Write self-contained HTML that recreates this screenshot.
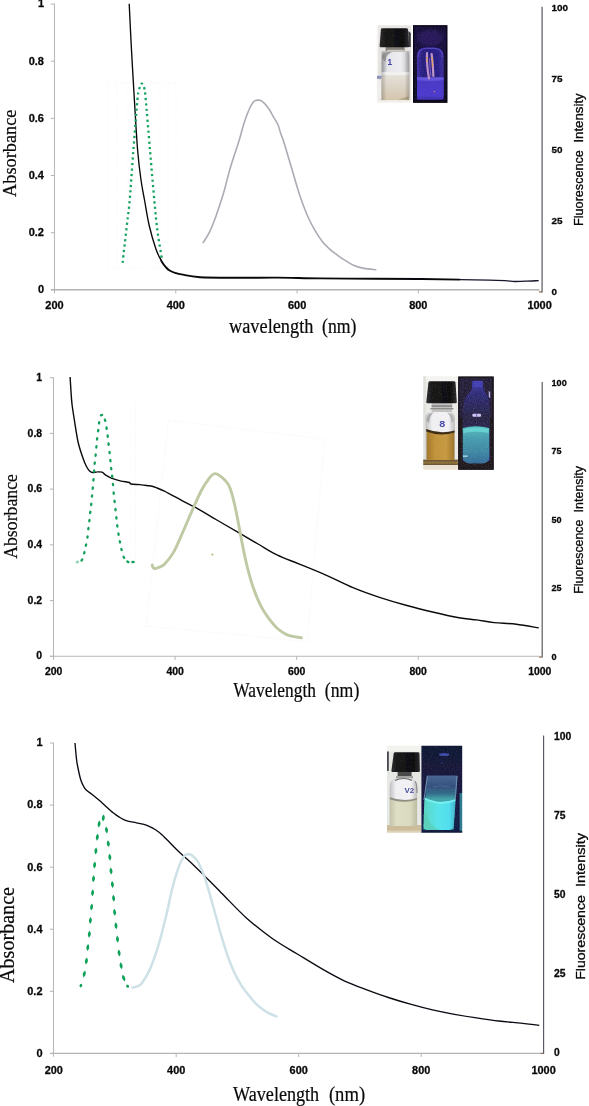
<!DOCTYPE html>
<html lang="en"><head><meta charset="utf-8"><title>Absorbance and fluorescence spectra</title>
<style>
html,body{margin:0;padding:0;background:#fff;}
body{width:589px;height:1106px;overflow:hidden;}
svg{display:block;}
.tk{font-family:"Liberation Sans",Arial,sans-serif;font-weight:700;fill:#080808;stroke:#080808;stroke-width:0.28;}
.ser{font-family:"Liberation Serif","Times New Roman",serif;fill:#0a0a0a;stroke:#0a0a0a;stroke-width:0.22;}
.san{font-family:"Liberation Sans",Arial,sans-serif;fill:#080808;stroke:#080808;stroke-width:0.3;}
</style></head><body>
<svg width="589" height="1106" viewBox="0 0 589 1106">
<defs>
<filter id="b1" x="-10%" y="-10%" width="120%" height="120%"><feGaussianBlur stdDeviation="0.45"/></filter>
<filter id="b2" x="-10%" y="-10%" width="120%" height="120%"><feGaussianBlur stdDeviation="0.9"/></filter>
<filter id="b3" x="-20%" y="-20%" width="140%" height="140%"><feGaussianBlur stdDeviation="1.8"/></filter>
<filter id="tb" x="-5%" y="-5%" width="110%" height="110%"><feGaussianBlur stdDeviation="0.3"/></filter>
</defs>
<rect width="589" height="1106" fill="#fff"/>
<g id="chart1">
<path d="M54.5 3.8 V293.2" stroke="#b9b9b9" stroke-width="1.1" fill="none"/>
<path d="M50.9 4.1 H54.5" stroke="#b4b4b4" stroke-width="1" fill="none"/>
<path d="M50.9 61.2 H54.5" stroke="#b4b4b4" stroke-width="1" fill="none"/>
<path d="M50.9 118.4 H54.5" stroke="#b4b4b4" stroke-width="1" fill="none"/>
<path d="M50.9 175.5 H54.5" stroke="#b4b4b4" stroke-width="1" fill="none"/>
<path d="M50.9 232.7 H54.5" stroke="#b4b4b4" stroke-width="1" fill="none"/>
<path d="M50.9 289.8 H54.5" stroke="#b4b4b4" stroke-width="1" fill="none"/>
<path d="M51.1 289.8 H539.5" stroke="#b2b2b2" stroke-width="1.50" fill="none"/>
<path d="M175.8 289.8 V293.4" stroke="#b4b4b4" stroke-width="1" fill="none"/>
<path d="M297.1 289.8 V293.4" stroke="#b4b4b4" stroke-width="1" fill="none"/>
<path d="M418.3 289.8 V293.4" stroke="#b4b4b4" stroke-width="1" fill="none"/>
<path d="M542.1 6.8 V292.5" stroke="#6f6f78" stroke-width="1.40" fill="none"/>
<path d="M538.9 291.9 H542.1" stroke="#8a6a50" stroke-width="1.2" fill="none"/>
<text x="44.0" y="7.4" font-size="10.50" text-anchor="end" textLength="6.1" lengthAdjust="spacingAndGlyphs" class="tk">1</text>
<text x="44.0" y="64.5" font-size="10.50" text-anchor="end" textLength="15.3" lengthAdjust="spacingAndGlyphs" class="tk">0.8</text>
<text x="44.0" y="121.7" font-size="10.50" text-anchor="end" textLength="15.3" lengthAdjust="spacingAndGlyphs" class="tk">0.6</text>
<text x="44.0" y="178.8" font-size="10.50" text-anchor="end" textLength="15.3" lengthAdjust="spacingAndGlyphs" class="tk">0.4</text>
<text x="44.0" y="236.0" font-size="10.50" text-anchor="end" textLength="15.3" lengthAdjust="spacingAndGlyphs" class="tk">0.2</text>
<text x="44.0" y="293.1" font-size="10.50" text-anchor="end" textLength="6.1" lengthAdjust="spacingAndGlyphs" class="tk">0</text>
<text x="54.5" y="309.0" font-size="10.50" text-anchor="middle" textLength="18.3" lengthAdjust="spacingAndGlyphs" class="tk">200</text>
<text x="175.8" y="309.0" font-size="10.50" text-anchor="middle" textLength="18.3" lengthAdjust="spacingAndGlyphs" class="tk">400</text>
<text x="297.1" y="309.0" font-size="10.50" text-anchor="middle" textLength="18.3" lengthAdjust="spacingAndGlyphs" class="tk">600</text>
<text x="418.3" y="309.0" font-size="10.50" text-anchor="middle" textLength="18.3" lengthAdjust="spacingAndGlyphs" class="tk">800</text>
<text x="539.6" y="309.0" font-size="10.50" text-anchor="middle" textLength="24.4" lengthAdjust="spacingAndGlyphs" class="tk">1000</text>
<text x="551.6" y="11.2" font-size="9.90" text-anchor="start" class="tk">100</text>
<text x="551.6" y="82.1" font-size="9.90" text-anchor="start" class="tk">75</text>
<text x="551.6" y="153.1" font-size="9.90" text-anchor="start" class="tk">50</text>
<text x="551.6" y="224.0" font-size="9.90" text-anchor="start" class="tk">25</text>
<text x="551.6" y="295.0" font-size="9.90" text-anchor="start" class="tk">0</text>
<g stroke="#e9e9e9" stroke-width="0.7" stroke-dasharray="0.8 2.2" fill="none" opacity="0.8"><path d="M108 83H176V268H108ZM117 83V268M128 83V268M160 83V268M168 83V268"/></g>
<clipPath id="k1a"><rect x="120" y="0" width="40" height="300"/></clipPath>
<clipPath id="k1b"><rect x="160" y="0" width="300" height="300"/></clipPath>
<clipPath id="k1c"><rect x="460" y="0" width="90" height="300"/></clipPath>
<path d="M129.2 3.7C129.6 11.8 130.7 36.0 131.6 52.0C132.5 68.0 133.4 83.7 134.4 100.0C135.4 116.3 136.5 136.7 137.6 150.0C138.7 163.3 139.8 171.7 141.0 180.0C142.2 188.3 143.1 192.4 144.5 200.0C145.9 207.6 147.3 217.3 149.2 225.5C151.1 233.7 153.9 243.1 156.0 249.2C158.1 255.3 160.3 259.0 162.0 262.0C163.7 265.0 164.7 265.9 166.0 267.3C167.3 268.7 168.1 269.6 169.6 270.5C171.1 271.4 173.0 272.2 175.0 272.8C177.0 273.4 177.3 273.7 181.5 274.4C185.7 275.1 190.2 276.6 200.0 277.2C209.8 277.8 227.2 277.7 240.0 277.8C252.8 277.9 263.7 277.5 277.0 277.6C290.3 277.7 303.7 278.2 320.0 278.4C336.3 278.6 358.3 278.7 375.0 278.8C391.7 278.9 405.8 278.9 420.0 279.0C434.2 279.1 448.5 279.4 460.0 279.6C471.5 279.8 481.5 280.0 489.0 280.2C496.5 280.4 500.8 280.4 505.0 280.6C509.2 280.8 511.2 281.4 514.5 281.5C517.8 281.6 521.0 281.3 525.0 281.2C529.0 281.1 536.4 280.7 538.7 280.6" stroke="#08080c" stroke-width="1.35" fill="none" clip-path="url(#k1a)"/>
<path d="M129.2 3.7C129.6 11.8 130.7 36.0 131.6 52.0C132.5 68.0 133.4 83.7 134.4 100.0C135.4 116.3 136.5 136.7 137.6 150.0C138.7 163.3 139.8 171.7 141.0 180.0C142.2 188.3 143.1 192.4 144.5 200.0C145.9 207.6 147.3 217.3 149.2 225.5C151.1 233.7 153.9 243.1 156.0 249.2C158.1 255.3 160.3 259.0 162.0 262.0C163.7 265.0 164.7 265.9 166.0 267.3C167.3 268.7 168.1 269.6 169.6 270.5C171.1 271.4 173.0 272.2 175.0 272.8C177.0 273.4 177.3 273.7 181.5 274.4C185.7 275.1 190.2 276.6 200.0 277.2C209.8 277.8 227.2 277.7 240.0 277.8C252.8 277.9 263.7 277.5 277.0 277.6C290.3 277.7 303.7 278.2 320.0 278.4C336.3 278.6 358.3 278.7 375.0 278.8C391.7 278.9 405.8 278.9 420.0 279.0C434.2 279.1 448.5 279.4 460.0 279.6C471.5 279.8 481.5 280.0 489.0 280.2C496.5 280.4 500.8 280.4 505.0 280.6C509.2 280.8 511.2 281.4 514.5 281.5C517.8 281.6 521.0 281.3 525.0 281.2C529.0 281.1 536.4 280.7 538.7 280.6" stroke="#08080c" stroke-width="1.9" fill="none" clip-path="url(#k1b)"/>
<path d="M129.2 3.7C129.6 11.8 130.7 36.0 131.6 52.0C132.5 68.0 133.4 83.7 134.4 100.0C135.4 116.3 136.5 136.7 137.6 150.0C138.7 163.3 139.8 171.7 141.0 180.0C142.2 188.3 143.1 192.4 144.5 200.0C145.9 207.6 147.3 217.3 149.2 225.5C151.1 233.7 153.9 243.1 156.0 249.2C158.1 255.3 160.3 259.0 162.0 262.0C163.7 265.0 164.7 265.9 166.0 267.3C167.3 268.7 168.1 269.6 169.6 270.5C171.1 271.4 173.0 272.2 175.0 272.8C177.0 273.4 177.3 273.7 181.5 274.4C185.7 275.1 190.2 276.6 200.0 277.2C209.8 277.8 227.2 277.7 240.0 277.8C252.8 277.9 263.7 277.5 277.0 277.6C290.3 277.7 303.7 278.2 320.0 278.4C336.3 278.6 358.3 278.7 375.0 278.8C391.7 278.9 405.8 278.9 420.0 279.0C434.2 279.1 448.5 279.4 460.0 279.6C471.5 279.8 481.5 280.0 489.0 280.2C496.5 280.4 500.8 280.4 505.0 280.6C509.2 280.8 511.2 281.4 514.5 281.5C517.8 281.6 521.0 281.3 525.0 281.2C529.0 281.1 536.4 280.7 538.7 280.6" stroke="#15152c" stroke-width="1.3" fill="none" clip-path="url(#k1c)"/>
<path d="M122.6 262.8C122.9 259.8 123.8 251.8 124.6 245.0C125.4 238.2 126.4 229.5 127.2 222.0C128.1 214.5 128.7 212.0 129.7 200.0C130.7 188.0 132.1 166.7 133.4 150.0C134.7 133.3 136.5 109.7 137.4 100.0C138.3 90.3 138.1 94.3 138.7 91.7C139.2 89.1 140.0 85.7 140.7 84.4C141.3 83.2 142.0 83.4 142.6 84.2C143.2 85.0 144.0 86.4 144.5 89.0C145.0 91.6 144.9 89.8 145.8 100.0C146.7 110.2 148.6 133.3 150.0 150.0C151.4 166.7 153.0 186.3 154.3 200.0C155.6 213.7 156.3 222.1 157.6 232.0C158.9 241.9 161.3 254.8 162.0 259.4" stroke="#16a35f" stroke-width="2.3" stroke-dasharray="2.2 3.25" fill="none"/>
<path d="M203.2 242.5C204.2 240.9 207.0 237.0 209.1 232.8C211.2 228.6 213.2 223.9 215.5 217.5C217.8 211.1 220.6 203.1 223.1 194.6C225.6 186.1 228.0 175.7 230.7 166.6C233.4 157.5 237.1 147.1 239.3 139.9C241.5 132.7 242.4 128.2 244.0 123.3C245.6 118.3 247.3 113.7 248.8 110.2C250.3 106.7 251.7 104.1 252.9 102.5C254.1 100.9 255.0 100.8 255.9 100.4C256.8 100.0 257.5 100.1 258.3 100.1C259.1 100.1 259.7 100.0 260.7 100.5C261.7 101.0 262.8 101.7 264.2 103.1C265.6 104.5 267.4 106.6 269.0 109.0C270.6 111.4 272.2 114.7 273.7 117.3C275.2 119.9 276.7 121.7 277.9 124.5C279.1 127.3 279.8 130.9 280.9 134.0C281.9 137.1 282.4 137.3 284.2 143.2C286.0 149.0 289.3 160.5 291.9 169.1C294.4 177.7 297.0 186.9 299.5 194.6C302.0 202.2 304.6 209.1 307.1 215.0C309.7 220.9 312.2 225.8 314.8 230.2C317.4 234.6 319.9 238.5 322.4 241.7C324.9 244.9 327.6 247.1 330.0 249.3C332.4 251.5 334.4 252.9 337.0 254.8C339.6 256.7 342.7 258.9 345.5 260.7C348.3 262.5 350.9 264.2 354.0 265.5C357.1 266.8 360.5 267.7 364.1 268.4C367.7 269.1 373.8 269.5 375.7 269.7" stroke="#aeaab4" stroke-width="1.6" fill="none" stroke-linecap="round"/>
<text transform="translate(16.3 196.9) rotate(-90)" font-size="19.80" textLength="87.4" lengthAdjust="spacingAndGlyphs" class="ser">Absorbance</text>
<text x="229.0" y="332.8" font-size="20.0" class="ser" textLength="84.4" lengthAdjust="spacingAndGlyphs">wavelength</text>
<text x="322.0" y="332.8" font-size="20.0" class="ser" textLength="34.4" lengthAdjust="spacingAndGlyphs">(nm)</text>
<text transform="translate(583.1 225.9) rotate(-90)" font-size="12.20" textLength="75.7" lengthAdjust="spacingAndGlyphs" class="san">Fluorescence</text>
<text transform="translate(583.1 142.6) rotate(-90)" font-size="12.20" textLength="49.3" lengthAdjust="spacingAndGlyphs" class="san">Intensity</text>
</g>
<g id="chart2">
<path d="M53.5 377.4 V659.7" stroke="#b9b9b9" stroke-width="1.1" fill="none"/>
<path d="M49.9 377.7 H53.5" stroke="#b4b4b4" stroke-width="1" fill="none"/>
<path d="M49.9 433.4 H53.5" stroke="#b4b4b4" stroke-width="1" fill="none"/>
<path d="M49.9 489.1 H53.5" stroke="#b4b4b4" stroke-width="1" fill="none"/>
<path d="M49.9 544.9 H53.5" stroke="#b4b4b4" stroke-width="1" fill="none"/>
<path d="M49.9 600.6 H53.5" stroke="#b4b4b4" stroke-width="1" fill="none"/>
<path d="M49.9 656.3 H53.5" stroke="#b4b4b4" stroke-width="1" fill="none"/>
<path d="M50.1 656.3 H539.5" stroke="#b6b6b6" stroke-width="1.10" fill="none"/>
<path d="M175.1 656.3 V659.9" stroke="#b4b4b4" stroke-width="1" fill="none"/>
<path d="M296.7 656.3 V659.9" stroke="#b4b4b4" stroke-width="1" fill="none"/>
<path d="M418.2 656.3 V659.9" stroke="#b4b4b4" stroke-width="1" fill="none"/>
<path d="M542.2 381.9 V657.6" stroke="#626266" stroke-width="1.25" fill="none"/>
<path d="M539.0 657.0 H542.2" stroke="#8a6a50" stroke-width="1.2" fill="none"/>
<text x="42.1" y="380.8" font-size="10.00" text-anchor="end" textLength="5.8" lengthAdjust="spacingAndGlyphs" class="tk">1</text>
<text x="42.1" y="436.6" font-size="10.00" text-anchor="end" textLength="14.5" lengthAdjust="spacingAndGlyphs" class="tk">0.8</text>
<text x="42.1" y="492.3" font-size="10.00" text-anchor="end" textLength="14.5" lengthAdjust="spacingAndGlyphs" class="tk">0.6</text>
<text x="42.1" y="548.0" font-size="10.00" text-anchor="end" textLength="14.5" lengthAdjust="spacingAndGlyphs" class="tk">0.4</text>
<text x="42.1" y="603.7" font-size="10.00" text-anchor="end" textLength="14.5" lengthAdjust="spacingAndGlyphs" class="tk">0.2</text>
<text x="42.1" y="659.4" font-size="10.00" text-anchor="end" textLength="5.8" lengthAdjust="spacingAndGlyphs" class="tk">0</text>
<text x="53.6" y="674.7" font-size="10.00" text-anchor="middle" textLength="17.4" lengthAdjust="spacingAndGlyphs" class="tk">200</text>
<text x="175.1" y="674.7" font-size="10.00" text-anchor="middle" textLength="17.4" lengthAdjust="spacingAndGlyphs" class="tk">400</text>
<text x="296.7" y="674.7" font-size="10.00" text-anchor="middle" textLength="17.4" lengthAdjust="spacingAndGlyphs" class="tk">600</text>
<text x="418.2" y="674.7" font-size="10.00" text-anchor="middle" textLength="17.4" lengthAdjust="spacingAndGlyphs" class="tk">800</text>
<text x="539.8" y="674.7" font-size="10.00" text-anchor="middle" textLength="23.2" lengthAdjust="spacingAndGlyphs" class="tk">1000</text>
<text x="551.5" y="386.0" font-size="9.60" text-anchor="start" textLength="15.2" lengthAdjust="spacingAndGlyphs" class="tk">100</text>
<text x="551.5" y="454.4" font-size="9.60" text-anchor="start" textLength="10.1" lengthAdjust="spacingAndGlyphs" class="tk">75</text>
<text x="551.5" y="522.9" font-size="9.60" text-anchor="start" textLength="10.1" lengthAdjust="spacingAndGlyphs" class="tk">50</text>
<text x="551.5" y="591.3" font-size="9.60" text-anchor="start" textLength="10.1" lengthAdjust="spacingAndGlyphs" class="tk">25</text>
<text x="551.5" y="659.8" font-size="9.60" text-anchor="start" textLength="5.1" lengthAdjust="spacingAndGlyphs" class="tk">0</text>
<g stroke="#e6e6e6" stroke-width="0.7" stroke-dasharray="0.8 2.2" fill="none"><path d="M135.7 402V563"/><path d="M168.6 420.4L324.7 439.1L307 641.5L146.1 625.9Z"/></g>
<path d="M70.1 377.0C70.2 379.2 70.6 385.3 70.9 390.0C71.2 394.7 71.4 399.5 72.1 405.0C72.8 410.5 73.8 416.5 74.8 422.8C75.8 429.1 76.9 437.1 78.3 443.0C79.7 448.9 81.7 454.5 83.1 458.5C84.5 462.5 85.5 464.7 86.6 466.8C87.7 468.9 88.6 470.1 89.6 471.0C90.6 471.9 91.3 472.4 92.6 472.5C93.9 472.6 95.7 471.9 97.3 471.9C98.9 471.8 100.7 471.7 102.1 472.2C103.5 472.7 103.9 474.0 105.7 475.1C107.5 476.2 110.2 477.7 112.8 478.7C115.4 479.7 118.3 480.5 121.1 481.1C123.9 481.7 127.8 482.0 129.4 482.5C131.0 483.0 129.1 483.6 130.9 484.0C132.7 484.4 137.3 484.4 140.0 484.6C142.7 484.9 144.8 485.2 146.8 485.5C148.8 485.8 150.5 485.8 152.2 486.2C153.9 486.6 155.0 487.2 157.0 488.0C159.0 488.8 160.2 489.1 164.4 491.2C168.6 493.3 177.3 498.1 182.4 500.8C187.5 503.5 189.4 504.1 195.0 507.2C200.6 510.3 208.9 515.3 216.0 519.5C223.1 523.7 230.8 528.1 237.8 532.2C244.8 536.3 251.4 540.2 258.0 544.0C264.6 547.8 270.5 551.8 277.5 555.2C284.5 558.6 291.8 560.9 300.0 564.3C308.2 567.6 317.7 571.4 326.5 575.3C335.3 579.2 344.2 584.0 353.0 587.7C361.8 591.4 370.7 594.5 379.5 597.4C388.3 600.3 397.2 602.9 406.0 605.3C414.8 607.7 423.7 609.9 432.5 612.0C441.3 614.1 451.6 616.4 459.0 617.7C466.4 619.0 470.7 619.1 476.6 619.9C482.5 620.7 487.7 621.9 494.3 622.6C500.9 623.3 508.9 623.4 516.3 624.3C523.7 625.2 535.0 627.3 538.8 627.9" stroke="#0b0b0e" stroke-width="1.4" fill="none" stroke-linejoin="round"/>
<g filter="url(#tb)">
<ellipse cx="77.4" cy="562.0" rx="1.25" ry="1.85" fill="#12a05c" transform="rotate(-115 77.4 562.0)" opacity="0.45"/>
<ellipse cx="81.9" cy="559.9" rx="1.25" ry="1.85" fill="#12a05c" transform="rotate(-143 81.9 559.9)"/>
<ellipse cx="84.3" cy="552.7" rx="1.25" ry="1.85" fill="#12a05c" transform="rotate(-165 84.3 552.7)"/>
<ellipse cx="86.0" cy="545.1" rx="1.25" ry="1.85" fill="#12a05c" transform="rotate(-168 86.0 545.1)"/>
<ellipse cx="87.5" cy="537.0" rx="1.25" ry="1.85" fill="#12a05c" transform="rotate(-172 87.5 537.0)"/>
<ellipse cx="88.4" cy="528.7" rx="1.25" ry="1.85" fill="#12a05c" transform="rotate(-173 88.4 528.7)"/>
<ellipse cx="89.4" cy="520.6" rx="1.25" ry="1.85" fill="#12a05c" transform="rotate(-174 89.4 520.6)"/>
<ellipse cx="90.2" cy="512.3" rx="1.25" ry="1.85" fill="#12a05c" transform="rotate(-174 90.2 512.3)"/>
<ellipse cx="91.2" cy="504.4" rx="1.25" ry="1.85" fill="#12a05c" transform="rotate(-174 91.2 504.4)"/>
<ellipse cx="92.0" cy="496.0" rx="1.25" ry="1.85" fill="#12a05c" transform="rotate(-174 92.0 496.0)"/>
<ellipse cx="92.8" cy="488.1" rx="1.25" ry="1.85" fill="#12a05c" transform="rotate(-175 92.8 488.1)"/>
<ellipse cx="93.5" cy="479.9" rx="1.25" ry="1.85" fill="#12a05c" transform="rotate(-176 93.5 479.9)"/>
<ellipse cx="94.1" cy="471.0" rx="1.25" ry="1.85" fill="#12a05c" transform="rotate(-176 94.1 471.0)"/>
<ellipse cx="94.7" cy="463.2" rx="1.25" ry="1.85" fill="#12a05c" transform="rotate(-175 94.7 463.2)"/>
<ellipse cx="95.6" cy="455.2" rx="1.25" ry="1.85" fill="#12a05c" transform="rotate(-174 95.6 455.2)"/>
<ellipse cx="96.4" cy="446.8" rx="1.25" ry="1.85" fill="#12a05c" transform="rotate(-175 96.4 446.8)"/>
<ellipse cx="97.1" cy="438.9" rx="1.25" ry="1.85" fill="#12a05c" transform="rotate(-174 97.1 438.9)"/>
<ellipse cx="98.2" cy="430.6" rx="1.25" ry="1.85" fill="#12a05c" transform="rotate(-173 98.2 430.6)"/>
<ellipse cx="99.1" cy="422.8" rx="1.25" ry="1.85" fill="#12a05c" transform="rotate(-168 99.1 422.8)"/>
<ellipse cx="101.5" cy="415.1" rx="1.25" ry="1.85" fill="#12a05c" transform="rotate(-113 101.5 415.1)"/>
<ellipse cx="105.1" cy="420.2" rx="1.25" ry="1.85" fill="#12a05c" transform="rotate(-21 105.1 420.2)"/>
<ellipse cx="106.6" cy="428.2" rx="1.25" ry="1.85" fill="#12a05c" transform="rotate(-9 106.6 428.2)"/>
<ellipse cx="107.7" cy="436.1" rx="1.25" ry="1.85" fill="#12a05c" transform="rotate(-7 107.7 436.1)"/>
<ellipse cx="108.6" cy="444.2" rx="1.25" ry="1.85" fill="#12a05c" transform="rotate(-7 108.6 444.2)"/>
<ellipse cx="109.6" cy="452.5" rx="1.25" ry="1.85" fill="#12a05c" transform="rotate(-6 109.6 452.5)"/>
<ellipse cx="110.4" cy="460.6" rx="1.25" ry="1.85" fill="#12a05c" transform="rotate(-6 110.4 460.6)"/>
<ellipse cx="111.2" cy="468.6" rx="1.25" ry="1.85" fill="#12a05c" transform="rotate(-7 111.2 468.6)"/>
<ellipse cx="112.2" cy="476.3" rx="1.25" ry="1.85" fill="#12a05c" transform="rotate(-6 112.2 476.3)"/>
<ellipse cx="113.0" cy="484.5" rx="1.25" ry="1.85" fill="#12a05c" transform="rotate(-5 113.0 484.5)"/>
<ellipse cx="113.7" cy="493.1" rx="1.25" ry="1.85" fill="#12a05c" transform="rotate(-5 113.7 493.1)"/>
<ellipse cx="114.6" cy="501.4" rx="1.25" ry="1.85" fill="#12a05c" transform="rotate(-6 114.6 501.4)"/>
<ellipse cx="115.5" cy="509.7" rx="1.25" ry="1.85" fill="#12a05c" transform="rotate(-6 115.5 509.7)"/>
<ellipse cx="116.4" cy="517.8" rx="1.25" ry="1.85" fill="#12a05c" transform="rotate(-6 116.4 517.8)"/>
<ellipse cx="117.3" cy="525.8" rx="1.25" ry="1.85" fill="#12a05c" transform="rotate(-7 117.3 525.8)"/>
<ellipse cx="118.5" cy="534.1" rx="1.25" ry="1.85" fill="#12a05c" transform="rotate(-9 118.5 534.1)"/>
<ellipse cx="119.9" cy="541.8" rx="1.25" ry="1.85" fill="#12a05c" transform="rotate(-11 119.9 541.8)"/>
<ellipse cx="121.5" cy="549.5" rx="1.25" ry="1.85" fill="#12a05c" transform="rotate(-14 121.5 549.5)"/>
<ellipse cx="123.8" cy="557.3" rx="1.25" ry="1.85" fill="#12a05c" transform="rotate(-27 123.8 557.3)"/>
<ellipse cx="127.9" cy="561.8" rx="1.25" ry="1.85" fill="#12a05c" transform="rotate(-63 127.9 561.8)"/>
<ellipse cx="133.0" cy="562.0" rx="1.25" ry="1.85" fill="#12a05c" transform="rotate(-88 133.0 562.0)"/>
</g>
<path d="M152.2 565.0C152.4 565.4 152.7 567.0 153.2 567.6C153.7 568.2 154.3 568.7 155.3 568.6C156.3 568.5 157.5 568.0 159.0 567.3C160.5 566.6 162.0 566.8 164.4 564.3C166.8 561.8 170.5 557.5 173.6 552.1C176.7 546.8 179.7 539.1 182.8 532.2C185.9 525.3 188.9 517.8 192.0 510.9C195.1 504.0 198.3 496.4 201.1 491.0C203.9 485.6 206.5 481.7 208.8 478.8C211.1 475.9 212.6 473.8 214.9 473.6C217.2 473.4 220.2 475.9 222.5 477.8C224.8 479.7 226.8 481.4 228.6 484.9C230.4 488.4 231.7 492.8 233.2 498.6C234.7 504.5 236.3 512.4 237.8 520.0C239.3 527.6 240.9 536.9 242.4 544.5C243.9 552.1 245.2 558.8 247.0 565.9C248.8 573.0 250.8 580.7 253.1 587.3C255.4 593.9 258.1 600.5 260.7 605.6C263.2 610.7 265.6 614.0 268.4 617.8C271.2 621.6 274.4 625.7 277.5 628.5C280.6 631.3 283.9 633.2 286.7 634.6C289.4 636.0 291.6 636.1 294.0 636.6C296.4 637.1 300.2 637.5 301.4 637.7" stroke="#bfcaa4" stroke-width="2.9" fill="none" stroke-linecap="round" stroke-linejoin="round"/>
<circle cx="212.4" cy="554.6" r="1" fill="#b0b070"/>
<text transform="translate(17.1 558.8) rotate(-90)" font-size="19.80" textLength="84.7" lengthAdjust="spacingAndGlyphs" class="ser">Absorbance</text>
<text x="233.3" y="696.9" font-size="20.1" class="ser" textLength="82.7" lengthAdjust="spacingAndGlyphs">Wavelength</text>
<text x="324.8" y="696.9" font-size="20.1" class="ser" textLength="34.5" lengthAdjust="spacingAndGlyphs">(nm)</text>
<text transform="translate(583.2 593.7) rotate(-90)" font-size="12.20" textLength="74.0" lengthAdjust="spacingAndGlyphs" class="san">Fluorescence</text>
<text transform="translate(583.2 512.4) rotate(-90)" font-size="12.20" textLength="46.4" lengthAdjust="spacingAndGlyphs" class="san">Intensity</text>
</g>
<g id="chart3">
<path d="M53.5 742.7 V1056.8" stroke="#b9b9b9" stroke-width="1.1" fill="none"/>
<path d="M49.9 743.0 H53.5" stroke="#b4b4b4" stroke-width="1" fill="none"/>
<path d="M49.9 805.1 H53.5" stroke="#b4b4b4" stroke-width="1" fill="none"/>
<path d="M49.9 867.2 H53.5" stroke="#b4b4b4" stroke-width="1" fill="none"/>
<path d="M49.9 929.2 H53.5" stroke="#b4b4b4" stroke-width="1" fill="none"/>
<path d="M49.9 991.3 H53.5" stroke="#b4b4b4" stroke-width="1" fill="none"/>
<path d="M49.9 1053.4 H53.5" stroke="#b4b4b4" stroke-width="1" fill="none"/>
<path d="M50.1 1053.4 H540.5" stroke="#b4b4b8" stroke-width="1.10" fill="none"/>
<path d="M176.2 1053.4 V1057.0" stroke="#b4b4b4" stroke-width="1" fill="none"/>
<path d="M298.7 1053.4 V1057.0" stroke="#b4b4b4" stroke-width="1" fill="none"/>
<path d="M421.2 1053.4 V1057.0" stroke="#b4b4b4" stroke-width="1" fill="none"/>
<path d="M543.6 735.5 V1054.0" stroke="#585864" stroke-width="1.15" fill="none"/>
<path d="M540.4 1053.4 H543.6" stroke="#8a6a50" stroke-width="1.2" fill="none"/>
<text x="42.5" y="746.3" font-size="10.50" text-anchor="end" textLength="6.1" lengthAdjust="spacingAndGlyphs" class="tk">1</text>
<text x="42.5" y="808.4" font-size="10.50" text-anchor="end" textLength="15.2" lengthAdjust="spacingAndGlyphs" class="tk">0.8</text>
<text x="42.5" y="870.5" font-size="10.50" text-anchor="end" textLength="15.2" lengthAdjust="spacingAndGlyphs" class="tk">0.6</text>
<text x="42.5" y="932.5" font-size="10.50" text-anchor="end" textLength="15.2" lengthAdjust="spacingAndGlyphs" class="tk">0.4</text>
<text x="42.5" y="994.6" font-size="10.50" text-anchor="end" textLength="15.2" lengthAdjust="spacingAndGlyphs" class="tk">0.2</text>
<text x="42.5" y="1056.7" font-size="10.50" text-anchor="end" textLength="6.1" lengthAdjust="spacingAndGlyphs" class="tk">0</text>
<text x="53.8" y="1074.0" font-size="10.50" text-anchor="middle" textLength="18.2" lengthAdjust="spacingAndGlyphs" class="tk">200</text>
<text x="176.2" y="1074.0" font-size="10.50" text-anchor="middle" textLength="18.2" lengthAdjust="spacingAndGlyphs" class="tk">400</text>
<text x="298.7" y="1074.0" font-size="10.50" text-anchor="middle" textLength="18.2" lengthAdjust="spacingAndGlyphs" class="tk">600</text>
<text x="421.2" y="1074.0" font-size="10.50" text-anchor="middle" textLength="18.2" lengthAdjust="spacingAndGlyphs" class="tk">800</text>
<text x="543.6" y="1074.0" font-size="10.50" text-anchor="middle" textLength="24.3" lengthAdjust="spacingAndGlyphs" class="tk">1000</text>
<text x="554.0" y="739.5" font-size="10.20" text-anchor="start" textLength="17.2" lengthAdjust="spacingAndGlyphs" class="tk">100</text>
<text x="554.0" y="818.6" font-size="10.20" text-anchor="start" textLength="11.5" lengthAdjust="spacingAndGlyphs" class="tk">75</text>
<text x="554.0" y="897.7" font-size="10.20" text-anchor="start" textLength="11.5" lengthAdjust="spacingAndGlyphs" class="tk">50</text>
<text x="554.0" y="976.8" font-size="10.20" text-anchor="start" textLength="11.5" lengthAdjust="spacingAndGlyphs" class="tk">25</text>
<text x="554.0" y="1055.9" font-size="10.20" text-anchor="start" textLength="5.7" lengthAdjust="spacingAndGlyphs" class="tk">0</text>
<path d="M75.0 743.0C75.2 744.8 75.6 750.5 76.0 754.0C76.4 757.5 76.4 759.8 77.2 764.0C78.0 768.2 79.6 775.8 80.6 779.3C81.6 782.8 82.2 783.3 83.0 785.0C83.8 786.7 84.0 787.8 85.7 789.5C87.4 791.2 90.9 793.5 93.4 795.5C95.9 797.5 97.4 798.7 100.7 801.6C104.0 804.5 110.3 810.5 113.5 813.1C116.7 815.8 117.9 816.2 120.0 817.5C122.1 818.8 123.5 819.8 126.2 820.7C128.9 821.6 133.6 822.2 136.4 822.8C139.2 823.4 140.9 823.6 143.0 824.2C145.1 824.8 147.0 825.4 149.1 826.3C151.2 827.2 153.4 828.4 155.5 829.8C157.6 831.2 160.0 833.0 161.9 834.7C163.8 836.4 164.0 836.8 167.0 839.8C170.0 842.8 174.9 848.1 179.7 852.6C184.4 857.1 188.6 860.3 195.5 866.9C202.4 873.5 212.4 883.9 220.9 892.4C229.4 900.9 237.9 910.3 246.4 917.9C254.9 925.5 263.4 932.2 271.9 938.2C280.4 944.2 288.9 948.9 297.3 954.0C305.7 959.1 314.2 964.4 322.0 968.9C329.8 973.4 336.8 977.3 344.2 980.8C351.6 984.2 358.8 986.8 366.2 989.6C373.6 992.4 380.9 995.1 388.3 997.5C395.7 999.9 403.0 1002.1 410.4 1004.2C417.8 1006.3 425.1 1008.2 432.5 1009.9C439.9 1011.6 447.1 1013.0 454.5 1014.3C461.9 1015.6 469.2 1016.8 476.6 1017.9C484.0 1019.0 491.3 1020.1 498.7 1021.0C506.1 1021.9 514.0 1022.5 520.8 1023.2C527.6 1023.9 536.2 1025.0 539.3 1025.4" stroke="#0a0a12" stroke-width="1.35" fill="none" stroke-linejoin="round"/>
<g filter="url(#tb)">
<path d="M0 -1.93Q3.00 0 0 1.93Q-3.00 0 0 -1.93Z" fill="#10a259" transform="translate(80.9 985.6) rotate(16)"/>
<path d="M0 -3.50Q3.00 0 0 3.50Q-3.00 0 0 -3.50Z" fill="#10a259" transform="translate(84.3 974.0) rotate(13)"/>
<path d="M0 -3.50Q3.00 0 0 3.50Q-3.00 0 0 -3.50Z" fill="#10a259" transform="translate(86.4 961.0) rotate(8)"/>
<path d="M0 -3.50Q3.00 0 0 3.50Q-3.00 0 0 -3.50Z" fill="#10a259" transform="translate(87.8 947.5) rotate(6)"/>
<path d="M0 -3.50Q3.00 0 0 3.50Q-3.00 0 0 -3.50Z" fill="#10a259" transform="translate(89.3 934.2) rotate(6)"/>
<path d="M0 -3.50Q3.00 0 0 3.50Q-3.00 0 0 -3.50Z" fill="#10a259" transform="translate(90.4 920.6) rotate(5)"/>
<path d="M0 -3.50Q3.00 0 0 3.50Q-3.00 0 0 -3.50Z" fill="#10a259" transform="translate(91.6 906.9) rotate(5)"/>
<path d="M0 -3.50Q3.00 0 0 3.50Q-3.00 0 0 -3.50Z" fill="#10a259" transform="translate(92.6 892.7) rotate(4)"/>
<path d="M0 -3.50Q3.00 0 0 3.50Q-3.00 0 0 -3.50Z" fill="#10a259" transform="translate(93.5 878.7) rotate(4)"/>
<path d="M0 -3.50Q3.00 0 0 3.50Q-3.00 0 0 -3.50Z" fill="#10a259" transform="translate(94.6 865.0) rotate(5)"/>
<path d="M0 -3.50Q3.00 0 0 3.50Q-3.00 0 0 -3.50Z" fill="#10a259" transform="translate(95.9 851.1) rotate(6)"/>
<path d="M0 -3.50Q3.00 0 0 3.50Q-3.00 0 0 -3.50Z" fill="#10a259" transform="translate(97.3 837.3) rotate(7)"/>
<path d="M0 -3.50Q3.00 0 0 3.50Q-3.00 0 0 -3.50Z" fill="#10a259" transform="translate(99.1 824.0) rotate(8)"/>
<path d="M0 -3.50Q3.00 0 0 3.50Q-3.00 0 0 -3.50Z" fill="#10a259" transform="translate(103.3 818.1) rotate(6)"/>
<path d="M0 -3.50Q3.00 0 0 3.50Q-3.00 0 0 -3.50Z" fill="#10a259" transform="translate(106.5 830.0) rotate(-8)"/>
<path d="M0 -3.50Q3.00 0 0 3.50Q-3.00 0 0 -3.50Z" fill="#10a259" transform="translate(108.3 843.6) rotate(-7)"/>
<path d="M0 -3.50Q3.00 0 0 3.50Q-3.00 0 0 -3.50Z" fill="#10a259" transform="translate(109.8 857.3) rotate(-6)"/>
<path d="M0 -3.50Q3.00 0 0 3.50Q-3.00 0 0 -3.50Z" fill="#10a259" transform="translate(111.0 871.0) rotate(-5)"/>
<path d="M0 -3.50Q3.00 0 0 3.50Q-3.00 0 0 -3.50Z" fill="#10a259" transform="translate(112.4 884.6) rotate(-5)"/>
<path d="M0 -3.50Q3.00 0 0 3.50Q-3.00 0 0 -3.50Z" fill="#10a259" transform="translate(113.6 898.3) rotate(-5)"/>
<path d="M0 -3.50Q3.00 0 0 3.50Q-3.00 0 0 -3.50Z" fill="#10a259" transform="translate(114.6 912.2) rotate(-5)"/>
<path d="M0 -3.50Q3.00 0 0 3.50Q-3.00 0 0 -3.50Z" fill="#10a259" transform="translate(116.0 925.7) rotate(-6)"/>
<path d="M0 -3.50Q3.00 0 0 3.50Q-3.00 0 0 -3.50Z" fill="#10a259" transform="translate(117.5 939.2) rotate(-6)"/>
<path d="M0 -3.50Q3.00 0 0 3.50Q-3.00 0 0 -3.50Z" fill="#10a259" transform="translate(119.1 953.0) rotate(-8)"/>
<path d="M0 -3.50Q3.00 0 0 3.50Q-3.00 0 0 -3.50Z" fill="#10a259" transform="translate(121.1 965.7) rotate(-10)"/>
<path d="M0 -3.50Q3.00 0 0 3.50Q-3.00 0 0 -3.50Z" fill="#10a259" transform="translate(123.7 978.2) rotate(-18)"/>
<path d="M0 -1.93Q3.00 0 0 1.93Q-3.00 0 0 -1.93Z" fill="#10a259" transform="translate(127.6 986.3) rotate(-26)"/>
</g>
<path d="M132.4 987.6C133.2 987.4 135.5 987.0 137.0 986.4C138.5 985.8 139.5 986.3 141.5 983.7C143.5 981.1 146.5 976.5 149.1 971.0C151.7 965.5 154.7 957.0 156.8 950.6C158.9 944.2 160.2 939.2 161.9 932.8C163.6 926.4 165.3 919.6 167.0 912.4C168.7 905.2 170.3 896.3 172.0 889.5C173.7 882.7 175.5 876.5 177.1 871.7C178.7 866.9 180.1 863.3 181.5 860.5C182.9 857.7 184.1 856.0 185.3 855.0C186.5 854.0 187.4 854.2 188.5 854.2C189.6 854.2 190.0 853.7 191.6 855.0C193.2 856.3 196.1 858.8 198.0 861.8C199.9 864.8 201.4 868.8 203.1 873.3C204.8 877.8 206.3 882.2 208.2 888.6C210.1 895.0 212.5 903.9 214.6 911.5C216.7 919.1 218.8 927.2 220.9 934.4C223.0 941.6 225.2 948.6 227.3 954.8C229.4 960.9 231.4 966.2 233.7 971.3C236.0 976.4 238.8 981.3 241.3 985.3C243.8 989.3 246.3 992.3 248.9 995.5C251.5 998.7 253.6 1001.6 256.6 1004.4C259.6 1007.2 263.5 1010.1 266.8 1012.1C270.1 1014.1 274.8 1015.7 276.4 1016.4" stroke="#cde1e7" stroke-width="2.5" fill="none" stroke-linecap="round" stroke-linejoin="round"/>
<text transform="translate(13.9 983.0) rotate(-90)" font-size="20.00" textLength="96.0" lengthAdjust="spacingAndGlyphs" class="ser">Absorbance</text>
<text x="233.1" y="1101.0" font-size="20.5" class="ser" textLength="86.1" lengthAdjust="spacingAndGlyphs">Wavelength</text>
<text x="328.9" y="1101.0" font-size="20.5" class="ser" textLength="36.2" lengthAdjust="spacingAndGlyphs">(nm)</text>
<text transform="translate(584.6 979.8) rotate(-90)" font-size="13.40" textLength="84.6" lengthAdjust="spacingAndGlyphs" class="san">Fluorescence</text>
<text transform="translate(584.6 887.0) rotate(-90)" font-size="13.40" textLength="54.0" lengthAdjust="spacingAndGlyphs" class="san">Intensity</text>
</g>
<defs>
<linearGradient id="capg" x1="0" x2="1" y1="0" y2="0"><stop offset="0" stop-color="#2b2b2d"/><stop offset="0.2" stop-color="#161618"/><stop offset="0.8" stop-color="#0d0d10"/><stop offset="1" stop-color="#2c2c30"/></linearGradient>
<linearGradient id="bg1a" x1="0" x2="0" y1="0" y2="1"><stop offset="0" stop-color="#e9e8e7"/><stop offset="0.6" stop-color="#e2e1df"/><stop offset="1" stop-color="#ece9e4"/></linearGradient>
<linearGradient id="gl1a" x1="0" x2="1" y1="0" y2="0"><stop offset="0" stop-color="#b4b5ba"/><stop offset="0.22" stop-color="#e6e7ec"/><stop offset="0.7" stop-color="#eeeef2"/><stop offset="1" stop-color="#c2c1c6"/></linearGradient>
<linearGradient id="lq1a" x1="0" x2="0" y1="0" y2="1"><stop offset="0" stop-color="#e6e1d9"/><stop offset="0.5" stop-color="#dcd3c6"/><stop offset="1" stop-color="#d4c6ac"/></linearGradient>
<linearGradient id="edge" x1="0" x2="1" y1="0" y2="0"><stop offset="0" stop-color="#000" stop-opacity="0.2"/><stop offset="0.18" stop-color="#000" stop-opacity="0"/><stop offset="0.82" stop-color="#000" stop-opacity="0"/><stop offset="1" stop-color="#000" stop-opacity="0.22"/></linearGradient>
<linearGradient id="uv1" x1="0" x2="1" y1="0" y2="0"><stop offset="0" stop-color="#4234a8"/><stop offset="0.2" stop-color="#261c7c"/><stop offset="0.8" stop-color="#281e84"/><stop offset="1" stop-color="#3c30a0"/></linearGradient>
<linearGradient id="uv1b" x1="0" x2="0" y1="0" y2="1"><stop offset="0" stop-color="#5646d2"/><stop offset="0.2" stop-color="#4636c4"/><stop offset="0.8" stop-color="#4a3acc"/><stop offset="1" stop-color="#3a2ca8"/></linearGradient>
<linearGradient id="bg1b" x1="0" x2="0" y1="0" y2="1"><stop offset="0" stop-color="#120b2c"/><stop offset="0.15" stop-color="#1a103e"/><stop offset="0.3" stop-color="#160d36"/><stop offset="1" stop-color="#0d081f"/></linearGradient>
<linearGradient id="gl2a" x1="0" x2="1" y1="0" y2="0"><stop offset="0" stop-color="#bfbfc2"/><stop offset="0.22" stop-color="#f0f0f4"/><stop offset="0.78" stop-color="#f3f3f6"/><stop offset="1" stop-color="#bdbcbc"/></linearGradient>
<linearGradient id="lq2a" x1="0" x2="1" y1="0" y2="0"><stop offset="0" stop-color="#a0762a"/><stop offset="0.3" stop-color="#c2933a"/><stop offset="0.7" stop-color="#c69942"/><stop offset="1" stop-color="#9c742c"/></linearGradient>
<linearGradient id="uv2" x1="0" x2="0" y1="0" y2="1"><stop offset="0" stop-color="#3b38a4"/><stop offset="0.16" stop-color="#2d2a74"/><stop offset="0.45" stop-color="#25233f"/><stop offset="0.8" stop-color="#282858"/><stop offset="1" stop-color="#31338a"/></linearGradient>
<linearGradient id="cy2" x1="0" x2="0" y1="0" y2="1"><stop offset="0" stop-color="#55c2c2"/><stop offset="0.3" stop-color="#449fac"/><stop offset="0.7" stop-color="#3b87a0"/><stop offset="1" stop-color="#326b94"/></linearGradient>
<linearGradient id="lq3a" x1="0" x2="1" y1="0" y2="0"><stop offset="0" stop-color="#c4c4aa"/><stop offset="0.25" stop-color="#dfdfc6"/><stop offset="0.75" stop-color="#dadac0"/><stop offset="1" stop-color="#bcbca2"/></linearGradient>
<linearGradient id="bg3b" x1="0" x2="0" y1="0" y2="1"><stop offset="0" stop-color="#10122e"/><stop offset="0.35" stop-color="#13163a"/><stop offset="1" stop-color="#111c46"/></linearGradient>
<linearGradient id="cy3" x1="0" x2="1" y1="0" y2="0"><stop offset="0" stop-color="#5ad8c2"/><stop offset="0.45" stop-color="#55e6ea"/><stop offset="0.8" stop-color="#4fe0ee"/><stop offset="1" stop-color="#3fb4cc"/></linearGradient>
<linearGradient id="up3" x1="0" x2="0" y1="0" y2="1"><stop offset="0" stop-color="#46658f"/><stop offset="0.2" stop-color="#314e7a"/><stop offset="0.33" stop-color="#2f6a86"/><stop offset="0.43" stop-color="#3fa4a8"/><stop offset="1" stop-color="#3fa4a8"/></linearGradient>
<filter id="nz" x="0" y="0" width="100%" height="100%"><feTurbulence type="fractalNoise" baseFrequency="0.85" numOctaves="2" seed="7" result="t"/><feColorMatrix in="t" type="matrix" values="0 0 0 0 0.55  0 0 0 0 0.45  0 0 0 0 0.95  1.6 1.6 0 0 -1.35"/></filter>
<filter id="nzw" x="0" y="0" width="100%" height="100%"><feTurbulence type="fractalNoise" baseFrequency="0.8" numOctaves="2" seed="3" result="t"/><feColorMatrix in="t" type="matrix" values="0 0 0 0 0.75  0 0 0 0 0.55  0 0 0 0 0.3  1.5 1.5 0 0 -1.4"/></filter>
<clipPath id="cp0"><rect x="376.8" y="25.2" width="34.4" height="77.6"/></clipPath>
<clipPath id="cp1"><rect x="413.0" y="25.2" width="34.4" height="77.6"/></clipPath>
<clipPath id="cp2"><rect x="423.2" y="376.3" width="34.7" height="93.4"/></clipPath>
<clipPath id="cp3"><rect x="458.2" y="376.5" width="35.5" height="93.2"/></clipPath>
<clipPath id="cp4"><rect x="387.0" y="745.8" width="34.2" height="86.9"/></clipPath>
<clipPath id="cp5"><rect x="421.4" y="745.8" width="40.8" height="86.9"/></clipPath>
</defs>
<g clip-path="url(#cp0)"><g filter="url(#b1)">
<rect x="375" y="24" width="38" height="80" fill="url(#bg1a)"/>
<rect x="376" y="24" width="2.2" height="80" fill="#f7f6f4"/>
<rect x="377" y="75.8" width="5" height="3" fill="#8a90b8"/>
<rect x="377.4" y="80" width="3.6" height="18" fill="#efefee"/>
<path d="M381.6 100.2V56Q381.6 51.6 386 50.6H405Q409.4 51.6 409.4 56V100.2Z" fill="url(#gl1a)"/>
<path d="M382.2 58Q382.4 52.6 387 52H392Q386 54 385.4 62Z" fill="#9c9b9c"/>
<rect x="385.6" y="46.4" width="19" height="5" fill="#857e78"/>
<rect x="387" y="49.8" width="17" height="1.6" fill="#c9c6c2"/>
<rect x="381.6" y="72" width="27.8" height="3.4" fill="#f2f2f2"/>
<path d="M381.6 75.2H409.4V98Q409.4 100.3 407 100.3H384Q381.6 100.3 381.6 98Z" fill="url(#lq1a)"/>
<rect x="381.6" y="51" width="27.8" height="49.3" fill="url(#edge)"/>
<path d="M398 99.4H408.6V96Q404 98.6 398 99.4Z" fill="#9c8a6a" opacity="0.7"/>
<path d="M380.9 29.4Q381 28.3 382.4 28.3H406.4Q407.8 28.3 408 29.4L409.3 46Q409.4 47.2 408.2 47.2H380.6Q379.5 47.2 379.6 46Z" fill="url(#capg)"/>
<path d="M408.2 31L410.8 33V47H408.8Z" fill="#3a3a3e"/>
<text x="387.6" y="65.0" font-size="9.6" font-family="Liberation Sans, Arial, sans-serif" font-weight="700" fill="#3a3da6" textLength="4.6" lengthAdjust="spacingAndGlyphs">1</text>
<rect x="375" y="100.4" width="38" height="4" fill="#f4f2ee"/>
</g>
<rect x="376.8" y="25.2" width="34.4" height="77.6" filter="url(#nzw)" opacity="0.1"/>
</g>
<g clip-path="url(#cp1)"><g filter="url(#b1)">
<rect x="412" y="24" width="37" height="80" fill="url(#bg1b)"/>
<ellipse cx="430" cy="38" rx="12" ry="8" fill="#2a1c62" opacity="0.75" filter="url(#b3)"/>
<path d="M417.0 99.6V56Q417.0 47.2 425.8 47.2H434.8Q443.6 47.2 443.6 56V99.6Z" fill="url(#uv1)"/>
<path d="M418.2 57Q418.2 48.6 426 48.4H434.6Q442.4 48.6 442.4 57" stroke="#5848c6" stroke-width="1.3" fill="none" opacity="0.85"/>
<path d="M417.0 77.4H443.6V96.2Q443.6 99.8 440.2 99.8H420.4Q417.0 99.8 417.0 96.2Z" fill="url(#uv1b)"/>
<path d="M417.0 77.2H443.6V80Q430 81.8 417.0 80Z" fill="#6a5ae0" opacity="0.7"/>
<path d="M427.0 53.2Q426.4 64 429.0 78.4" stroke="#bb8ec8" stroke-width="2.2" fill="none" stroke-linecap="round"/>
<path d="M431.6 54.0Q433.0 64 433.4 76.0" stroke="#c094c6" stroke-width="2.2" fill="none" stroke-linecap="round"/>
<path d="M429.5 58Q429.8 68 431.0 76.4" stroke="#7456bc" stroke-width="1.2" fill="none"/>
<path d="M427.0 57.2V63M432.4 57.6V67" stroke="#eaa628" stroke-width="1.1" stroke-dasharray="1.8 1.2" fill="none"/>
<circle cx="434.4" cy="91.6" r="0.7" fill="#e09a50"/>
<rect x="412" y="100.2" width="37" height="4" fill="#0b0719"/>
</g>
<rect x="413.0" y="25.2" width="34.4" height="77.6" filter="url(#nz)" opacity="0.12"/>
<rect x="413.6" y="25.8" width="33.2" height="76.4" fill="none" stroke="#0a0614" stroke-width="1.3"/>
</g>
<g clip-path="url(#cp2)"><g filter="url(#b1)">
<rect x="422" y="375" width="38" height="96" fill="#ececea"/>
<rect x="422" y="375" width="38" height="7" fill="#f5f5f4"/>
<rect x="423" y="376" width="3" height="94" fill="#e2e2de"/>
<rect x="422" y="464.6" width="38" height="6" fill="#ebe4d6"/>
<rect x="422" y="459.6" width="38" height="5.4" fill="#6a5636"/>
<rect x="423" y="461.6" width="36" height="2" fill="#9a7a3a" opacity="0.8"/>
<path d="M425.6 460V418Q425.6 413 431 411.6H449.4Q454.8 413 454.8 418V460Z" fill="url(#gl2a)"/>
<rect x="431.6" y="402.4" width="20.6" height="9.6" fill="#c3c2c2"/>
<rect x="431.6" y="405.4" width="20.6" height="1.3" fill="#77767a"/>
<rect x="430.4" y="408" width="23" height="1.3" fill="#8b8a8c"/>
<path d="M426.6 421Q426.8 414.4 431.4 413L434 412.6Q429.6 415 429 423Z" fill="#a9a9ab"/>
<path d="M453.8 421Q453.6 414.4 449 413L446.6 412.6Q451 415 451.6 423Z" fill="#b4b4b6"/>
<path d="M426.6 430.6Q440.4 435.4 454.4 431.6V460H426.6Z" fill="url(#lq2a)"/>
<path d="M426.2 429Q440.4 434.6 454.6 430.4V432.4Q440.4 436.8 426.2 431.4Z" fill="#3c2c18"/>
<path d="M428.4 382.5Q428.5 381.2 430 381.2H454Q455.4 381.2 455.5 382.5L456.8 402Q456.9 403.3 455.6 403.3H427.5Q426.2 403.3 426.3 402Z" fill="url(#capg)"/>
<text x="439.2" y="426.6" font-size="9.4" font-family="Liberation Sans, Arial, sans-serif" font-weight="700" fill="#4549ad" textLength="6.0" lengthAdjust="spacingAndGlyphs">8</text>
</g>
<rect x="423.2" y="376.3" width="34.7" height="93.4" filter="url(#nzw)" opacity="0.14"/>
</g>
<g clip-path="url(#cp3)"><g filter="url(#b1)">
<rect x="457" y="375" width="38" height="96" fill="#1b1719"/>
<rect x="459" y="378" width="33" height="40" fill="#221c38" opacity="0.8"/>
<path d="M462.8 461V412Q463.4 399 468 394Q472 390 472.2 386V382.4Q472.2 380.8 474 380.8H481.4Q483 380.8 483 382.4V386Q483.2 390 486.4 394Q489.8 399 489.8 412V461Z" fill="url(#uv2)"/>
<rect x="472.6" y="381" width="10" height="6.4" fill="#403db0"/>
<path d="M488.6 391L490.2 392V398.4L488.8 397Z" fill="#b9b4e8"/>
<rect x="472.4" y="413.8" width="8.6" height="3" rx="1" fill="#d2caf2"/>
<rect x="476.2" y="413.8" width="1" height="3" fill="#6a62b0"/>
<path d="M462.8 428Q476 424.6 489.2 428V457Q489.2 463 483 463.4H469Q462.8 463 462.8 457Z" fill="url(#cy2)"/>
<path d="M463.4 429Q476 426 488.8 429V433Q476 430.4 463.4 433Z" fill="#66dcd4" opacity="0.8"/>
<rect x="463" y="455.4" width="4.6" height="1.6" fill="#bfe6ea" opacity="0.8"/>
</g>
<rect x="458.2" y="376.5" width="35.5" height="93.2" filter="url(#nz)" opacity="0.2"/>
<rect x="458.7" y="377" width="34.5" height="92.2" fill="none" stroke="#17131a" stroke-width="1.2"/>
</g>
<g clip-path="url(#cp4)"><g filter="url(#b1)">
<rect x="386" y="745" width="37" height="89" fill="#e6e9e5"/>
<rect x="386" y="745" width="37" height="6.4" fill="#f3f4f1"/>
<rect x="387" y="751.5" width="1.8" height="19.4" fill="#45454c"/>
<rect x="386" y="825" width="37" height="9" fill="#cdbd9c"/>
<rect x="386" y="830.6" width="37" height="3" fill="#ded2ba"/>
<path d="M389.7 826V786Q389.7 780.4 395.6 778H411.6Q417.1 780.4 417.1 786V826Z" fill="url(#gl2a)"/>
<rect x="397.6" y="771" width="14" height="5.4" fill="#4a4a4c"/><rect x="396" y="776" width="17" height="2.4" fill="#a2a2a2"/>
<path d="M395 780.4Q403.4 776.6 412 780.4" stroke="#6c6c6e" stroke-width="1.2" fill="none"/>
<path d="M415 781.4Q417.2 784 417 793" stroke="#8c8c8e" stroke-width="1.2" fill="none"/>
<path d="M389.9 799Q403.4 803.4 417 799.6V824Q417 826 415 826H392Q389.9 826 389.9 824Z" fill="url(#lq3a)"/>
<path d="M389.8 797.2Q403.4 802.2 417 798V799.8Q403.4 804 389.8 799.2Z" fill="#8e8e80"/>
<path d="M393.7 753.6Q393.8 752.3 395.3 752.3H418Q419.4 752.3 419.5 753.6L419.9 770.8Q419.9 772.1 418.6 772.1H392.6Q391.3 772.1 391.4 770.8Z" fill="url(#capg)"/>
<text x="404.6" y="793.4" font-size="7.8" font-family="Liberation Sans, Arial, sans-serif" font-weight="700" fill="#4448a8" textLength="9.6" lengthAdjust="spacingAndGlyphs">V2</text>
</g>
<rect x="387.0" y="745.8" width="34.2" height="86.9" filter="url(#nzw)" opacity="0.1"/>
</g>
<g clip-path="url(#cp5)"><g filter="url(#b1)">
<rect x="420" y="745" width="44" height="89" fill="url(#bg3b)"/>
<ellipse cx="444.2" cy="754.6" rx="5.2" ry="1.5" fill="#3c4aa4" filter="url(#b1)"/>
<circle cx="442" cy="762.6" r="0.9" fill="#2c3684"/>
<path d="M426.9 775.6H457.4L453.6 829.6H423.3Z" fill="url(#up3)"/>
<path d="M424.4 797.4Q440 805.4 455.4 799L453.6 826Q453.2 830 449 830H428Q423.6 830 423.6 826Z" fill="url(#cy3)"/>
<path d="M423.6 815Q423.8 829.8 428 830H440Q428 826 426 812Z" fill="#58cdb0" opacity="0.7"/>
<path d="M424.6 797.6Q440 805.6 455.2 799.2V801Q440 807.6 424.6 799.6Z" fill="#7af6f0" opacity="0.85"/>
<path d="M427.4 776L424 800M457 776L455.2 800" stroke="#6a8cac" stroke-width="1.1" fill="none"/>
<path d="M433 787Q441 784.6 449 787" stroke="#4a6a94" stroke-width="1" fill="none" opacity="0.8"/>
<rect x="459.6" y="793" width="4" height="38" fill="#2b7a8c"/>
<rect x="420" y="830.8" width="44" height="3" fill="#0e1434"/>
</g>
<rect x="421.4" y="745.8" width="40.8" height="86.9" filter="url(#nz)" opacity="0.12"/>
</g>
</svg>
</body></html>
